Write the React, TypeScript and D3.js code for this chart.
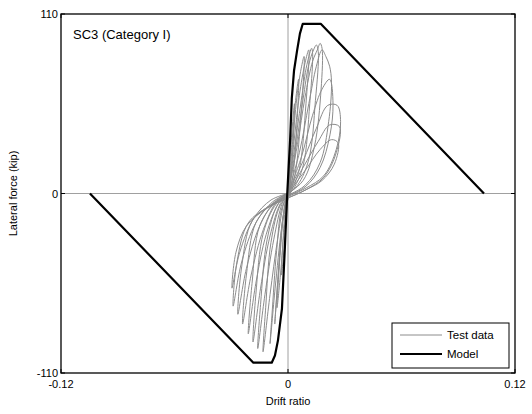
import React from "react";
import * as d3 from "d3";

type Pt = [number, number];

// Axis ticks
const xTicks = [-0.12, 0, 0.12];
const xTickLabels = ["-0.12", "0", "0.12"];
const yTicks = [-110, 0, 110];
const yTickLabels = ["-110", "0", "110"];

// Backbone model (drift ratio, kip)
const modelDrift = [-0.1047, -0.0183, -0.0086, -0.0069, -0.0053, -0.0032, -0.0016, -0.0004, 0.0011, 0.002, 0.0032, 0.0048, 0.0063, 0.0078, 0.0173, 0.1036];
const modelForce = [0, -103.7, -103.7, -99.3, -90, -70.5, -31.9, 0, 32.5, 58.2, 75.4, 87.6, 98, 104, 104, 0];

// Test data hysteresis cycles (drift ratio, kip)
const cycle01: Pt[] = [[0,0],[0.0012,24],[0.0025,44],[0.0034,55],[0.0027,30],[0.0012,6],[0,-1],[-0.0013,-22],[-0.0027,-42],[-0.0035,-50],[-0.0024,-24],[-0.001,-4],[0,0]];
const cycle02: Pt[] = [[0,0],[0.002,30],[0.004,57],[0.0056,70],[0.0046,40],[0.0022,8],[0,-1],[-0.002,-22],[-0.004,-50],[-0.0058,-70],[-0.0042,-38],[-0.0018,-8],[0,0]];
const cycle03: Pt[] = [[0,0],[0.0025,32],[0.005,62],[0.0072,78],[0.0085,84],[0.007,50],[0.0038,12],[0.001,0],[-0.0025,-14],[-0.005,-48],[-0.007,-80],[-0.0052,-50],[-0.0025,-14],[0,0]];
const cycle04: Pt[] = [[0,0],[0.003,30],[0.006,60],[0.009,80],[0.011,88],[0.0095,55],[0.006,15],[0.002,2],[-0.003,-8],[-0.006,-35],[-0.0085,-75],[-0.0095,-92],[-0.0068,-58],[-0.0035,-22],[-0.001,-3],[0,0]];
const cycle05: Pt[] = [[0,0],[0.003,24],[0.007,57],[0.01,79],[0.0125,89],[0.013,86],[0.0115,55],[0.008,17],[0.003,3],[-0.004,-7],[-0.009,-30],[-0.0118,-70],[-0.0132,-97],[-0.0095,-62],[-0.0055,-28],[-0.002,-5],[0,0]];
const cycle06: Pt[] = [[0,0],[0.004,27],[0.008,58],[0.011,79],[0.0135,88],[0.015,91],[0.016,87],[0.0145,57],[0.011,21],[0.005,5],[-0.005,-6],[-0.011,-28],[-0.0145,-68],[-0.016,-95],[-0.0122,-62],[-0.0075,-28],[-0.003,-6],[0,0]];
const cycle07: Pt[] = [[0,0],[0.005,30],[0.009,59],[0.013,81],[0.0155,88],[0.017,92],[0.018,89],[0.0175,64],[0.014,29],[0.008,8],[-0.006,-6],[-0.013,-24],[-0.017,-62],[-0.0185,-91],[-0.0145,-58],[-0.0095,-26],[-0.004,-6],[0,0]];
const cycle08: Pt[] = [[0,0],[0.006,25],[0.011,55],[0.015,78],[0.018,88],[0.02,84],[0.022,78],[0.023,68],[0.0215,44],[0.017,19],[0.009,5],[-0.007,-6],[-0.015,-20],[-0.019,-55],[-0.021,-86],[-0.017,-55],[-0.0115,-25],[-0.005,-6],[0,0]];
const cycle09: Pt[] = [[0,0],[0.007,22],[0.013,48],[0.018,64],[0.022,70],[0.0238,55],[0.0222,36],[0.017,16],[0.009,4],[-0.008,-6],[-0.017,-18],[-0.022,-50],[-0.024,-80],[-0.0195,-50],[-0.013,-22],[-0.006,-5],[0,0]];
const cycle10: Pt[] = [[0,0],[0.008,20],[0.015,40],[0.021,54],[0.026,54],[0.0278,44],[0.0255,27],[0.019,11],[0.009,3],[-0.009,-7],[-0.019,-17],[-0.0245,-45],[-0.0265,-74],[-0.022,-46],[-0.015,-20],[-0.007,-5],[0,0]];
const cycle11: Pt[] = [[0,0],[0.008,16],[0.016,32],[0.022,42],[0.0272,41],[0.0255,25],[0.019,10],[0.009,2],[-0.01,-8],[-0.021,-18],[-0.027,-42],[-0.029,-69],[-0.0245,-42],[-0.017,-18],[-0.008,-5],[0,0]];
const cycle12: Pt[] = [[0,0],[0.009,14],[0.017,27],[0.023,33],[0.0265,31],[0.0245,18],[0.018,8],[0.009,2],[-0.011,-9],[-0.022,-20],[-0.0275,-36],[-0.0296,-58],[-0.0255,-36],[-0.018,-15],[-0.009,-4],[0,0]];

const testCycles = [cycle01, cycle02, cycle03, cycle04, cycle05, cycle06, cycle07, cycle08, cycle09, cycle10, cycle11, cycle12];

const W = 532;
const H = 414;
const L = 61, R = 515, T = 14, B = 373;

export default function App() {
  const x = d3.scaleLinear().domain([-0.12, 0.12]).range([L, R]);
  const y = d3.scaleLinear().domain([-110, 110]).range([B, T]);

  const testLine = d3
    .line<Pt>()
    .x((d) => x(d[0]))
    .y((d) => y(d[1]))
    .curve(d3.curveCatmullRom.alpha(0.5));

  const modelPts: Pt[] = modelDrift.map((d, i) => [d, modelForce[i]]);
  const modelLine = d3
    .line<Pt>()
    .x((d) => x(d[0]))
    .y((d) => y(d[1]));

  const font = "Arial, 'Liberation Sans', sans-serif";

  return (
    <svg
      width={W}
      height={H}
      style={{ position: "absolute", left: 0, top: 0, background: "#fff" }}
      fontFamily={font}
    >
      <rect x={0} y={0} width={W} height={H} fill="#fff" />
      {/* zero lines */}
      <line x1={x(0)} x2={x(0)} y1={T} y2={B} stroke="#a0a0a0" strokeWidth={1} />
      <line x1={L} x2={R} y1={y(0)} y2={y(0)} stroke="#a0a0a0" strokeWidth={1} />

      {/* test data */}
      {testCycles.map((c, i) => (
        <path key={i} d={testLine(c) || ""} fill="none" stroke="#8c8c8c" strokeWidth={1} />
      ))}

      {/* model */}
      <path d={modelLine(modelPts) || ""} fill="none" stroke="#000" strokeWidth={2.2} strokeLinejoin="round" />

      {/* frame */}
      <rect x={L} y={T} width={R - L} height={B - T} fill="none" stroke="#000" strokeWidth={1.3} />

      {/* ticks */}
      {xTicks.map((t, i) => (
        <g key={"xt" + i}>
          <line x1={x(t)} x2={x(t)} y1={B} y2={B - 4} stroke="#000" />
          <line x1={x(t)} x2={x(t)} y1={T} y2={T + 4} stroke="#000" />
          <text x={x(t)} y={B + 15} fontSize={11} textAnchor="middle" fill="#000">
            {xTickLabels[i]}
          </text>
        </g>
      ))}
      {yTicks.map((t, i) => (
        <g key={"yt" + i}>
          <line x1={L} x2={L + 4} y1={y(t)} y2={y(t)} stroke="#000" />
          <line x1={R} x2={R - 4} y1={y(t)} y2={y(t)} stroke="#000" />
          <text x={L - 3} y={y(t) + 4} fontSize={11} textAnchor="end" fill="#000">
            {yTickLabels[i]}
          </text>
        </g>
      ))}

      {/* axis labels */}
      <text x={x(0)} y={405} fontSize={11} textAnchor="middle" fill="#000">
        Drift ratio
      </text>
      <text
        transform={`translate(17, ${y(0)}) rotate(-90)`}
        fontSize={11}
        textAnchor="middle"
        fill="#000"
      >
        Lateral force (kip)
      </text>

      {/* annotation */}
      <text x={73} y={39} fontSize={13} fill="#000">
        SC3 (Category I)
      </text>

      {/* legend */}
      <rect x={392} y={323} width={117} height={45} fill="#fff" stroke="#000" strokeWidth={1} />
      <line x1={400} x2={442} y1={335} y2={335} stroke="#8c8c8c" strokeWidth={1} />
      <text x={447} y={339} fontSize={11.5} fill="#000">
        Test data
      </text>
      <line x1={400} x2={442} y1={354} y2={354} stroke="#000" strokeWidth={2.2} />
      <text x={447} y={358} fontSize={11.5} fill="#000">
        Model
      </text>
    </svg>
  );
}
